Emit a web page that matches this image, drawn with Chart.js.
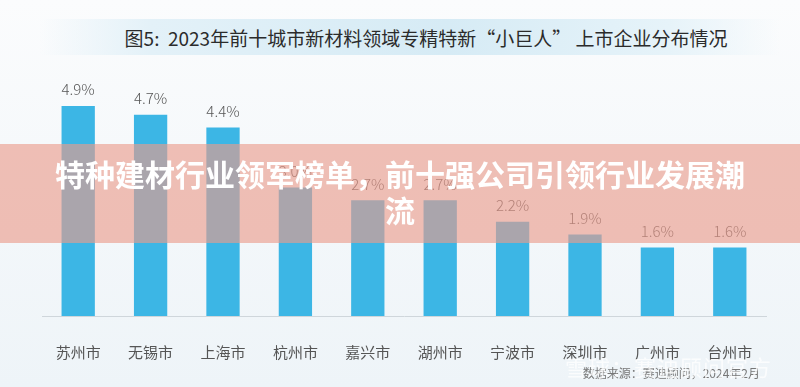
<!DOCTYPE html>
<html>
<head>
<meta charset="utf-8">
<script src="https://cdn.jsdelivr.net/npm/chart.js"></script>
<style>
    html, body { margin: 0; padding: 0; }
    body {
        width: 800px; height: 387px; overflow: hidden; position: relative;
        background: linear-gradient(180deg, #fbfcfd 0%, #f3f7fa 60%, #eef4f8 100%);
        font-family: "Noto Sans CJK SC", "Noto Sans", sans-serif;
    }
    #titleBand {
        position: absolute; left: 40px; top: 19px; width: 740px; height: 36px;
        background: linear-gradient(90deg, rgba(230,242,248,0) 0%, #e3f1f8 15%, #d6ebf5 55%, #e6f3f9 85%, rgba(230,242,248,0) 100%);
    }
    #title {
        position: absolute; left: 0; top: 24px; width: 800px; padding-left: 52px; box-sizing: border-box;
        text-align: center; font-size: 19px; color: #2b2b2b; line-height: 28px;
    }
    #chartBox { position: absolute; left: 0; top: 0; width: 800px; height: 387px; }
    #overlay {
        position: absolute; left: 0; top: 144px; width: 800px; height: 99px;
        background: rgba(234, 156, 139, 0.63);
        color: #fff; font-weight: bold; font-size: 30px; line-height: 36px;
        text-align: center; padding: 11px 20px 0; box-sizing: border-box;
    }
    #source {
        position: absolute; right: 40px; top: 364px; font-size: 12px; color: #777;
    }
    #mark {
        position: absolute; right: 28px; top: 350px; font-size: 22px; color: rgba(255,255,255,0.75);
        letter-spacing: 1px;
    }
</style>
</head>
<body>
<div id="titleBand"></div>
<div id="title">图5:&nbsp;&nbsp;2023年前十城市新材料领域专精特新“小巨人” 上市企业分布情况</div>
<div id="chartBox"><canvas id="cityChart" width="800" height="387"></canvas></div>
<div id="source">数据来源：赛迪顾问，2024年2月</div>
<div id="mark">雪球：赛迪顾问官方</div>
<div id="overlay">特种建材行业领军榜单，前十强公司引领行业发展潮<br>流</div>
<script>
const cities = ["苏州市", "无锡市", "上海市", "杭州市", "嘉兴市", "湖州市", "宁波市", "深圳市", "广州市", "台州市"];
const shares = [4.9, 4.7, 4.4, 3.0, 2.7, 2.7, 2.2, 1.9, 1.6, 1.6];

// draws the % value above each bar
const valueLabels = {
    id: "valueLabels",
    afterDatasetsDraw(chart) {
        const ctx = chart.ctx;
        const meta = chart.getDatasetMeta(0);
        ctx.save();
        ctx.font = "300 15px 'Noto Sans CJK SC', 'Noto Sans', sans-serif";
        ctx.fillStyle = "#555";
        ctx.textAlign = "center";
        ctx.textBaseline = "bottom";
        meta.data.forEach(function(bar, i) {
            ctx.fillText(shares[i].toFixed(1) + "%", bar.x, bar.y - 9);
        });
        ctx.restore();
    }
};

const ctx = document.getElementById("cityChart").getContext("2d");
new Chart(ctx, {
    type: "bar",
    data: {
        labels: cities,
        datasets: [{
            label: "占比",
            data: shares,
            backgroundColor: "#3cb6e5",
            categoryPercentage: 1,
            barPercentage: 0.46
        }]
    },
    options: {
        responsive: false,
        animation: false,
        layout: { padding: { left: 42, right: 34, top: 59, bottom: 7 } },
        plugins: {
            legend: { display: false },
            tooltip: { enabled: false }
        },
        scales: {
            x: {
                grid: { display: false },
                border: { display: true, color: "#cfd6db", width: 1 },
                ticks: {
                    color: "#555",
                    padding: 19,
                    font: { size: 15, family: "'Noto Sans CJK SC', 'Noto Sans', sans-serif" }
                }
            },
            y: {
                display: false,
                min: 0,
                max: 6
            }
        }
    },
    plugins: [valueLabels]
});
</script>
</body>
</html>
